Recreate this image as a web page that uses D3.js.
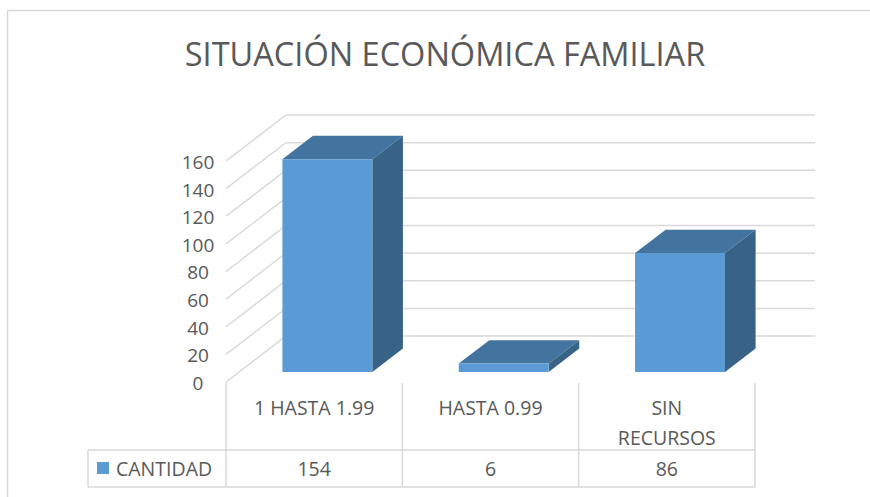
<!DOCTYPE html>
<html>
<head>
<meta charset="utf-8">
<script src="https://cdn.jsdelivr.net/npm/d3@7"></script>
<style>
  body { margin: 0; background: #fff; }
  text { font-family: "Open Sans", sans-serif; fill: #595959; }
</style>
</head>
<body>
<svg id="svg-main" width="870" height="497"></svg>
<script>
// data
var categories = ["1 HASTA 1.99", "HASTA 0.99", "SIN RECURSOS"];
var categoryLines = [["1 HASTA 1.99"], ["HASTA 0.99"], ["SIN", "RECURSOS"]];
var values = [154, 6, 86];
var seriesName = "CANTIDAD";
var yTicks = [0, 20, 40, 60, 80, 100, 120, 140, 160];
var title = "SITUACIÓN ECONÓMICA FAMILIAR";

var svg = d3.select("#svg-main");

// depth of the 3d box
var depthX = 60, depthY = -46;
var barFront = 0.22, barBack = 0.73;

var x = d3.scaleBand().domain(categories).range([226, 755]).padding(0);
var xBar = d3.scaleBand().domain(categories).range([226, 755])
    .paddingInner(0.49).paddingOuter(0.245);
var y = d3.scaleLinear().domain([0, 160]).range([382, 161]);

// chart border
svg.append("rect")
  .attr("x", 7.5).attr("y", 10.5)
  .attr("width", 880).attr("height", 500)
  .attr("fill", "none")
  .attr("stroke", "#d9d9d9")
  .attr("stroke-width", 1.5);

// title
svg.append("text")
  .attr("x", 445)
  .attr("y", 66)
  .attr("text-anchor", "middle")
  .style("font-size", "32.5px")
  .text(title);

// gridlines: diagonal on the left wall, then along the back wall
svg.append("g")
  .selectAll("path")
  .data(yTicks)
  .enter()
  .append("path")
  .attr("fill", "none")
  .attr("stroke", "#d9d9d9")
  .attr("stroke-width", 1.5)
  .attr("d", function(d) {
      return "M 226 " + y(d) + " l " + depthX + " " + depthY +
             " L " + (755 + depthX) + " " + (y(d) + depthY);
  });

// tick labels
svg.append("g")
  .selectAll("text")
  .data(yTicks)
  .enter()
  .append("text")
  .attr("x", 198)
  .attr("y", function(d) { return y(d); })
  .attr("dy", "0.42em")
  .attr("text-anchor", "middle")
  .style("font-size", "19px")
  .text(function(d) { return d; });

// bars
var bars = svg.append("g")
  .selectAll("g")
  .data(values)
  .enter()
  .append("g");

function corner(i, v, side, depth) {
    var px = xBar(categories[i]) + (side ? xBar.bandwidth() : 0) + depth * depthX;
    var py = y(v) + depth * depthY;
    return px + "," + py;
}

// top face
bars.append("polygon")
  .attr("fill", "#43739f")
  .attr("points", function(d, i) {
      return [corner(i, d, 0, barFront), corner(i, d, 1, barFront),
              corner(i, d, 1, barBack), corner(i, d, 0, barBack)].join(" ");
  });

// side face
bars.append("polygon")
  .attr("fill", "#386387")
  .attr("points", function(d, i) {
      return [corner(i, d, 1, barFront), corner(i, 0, 1, barFront),
              corner(i, 0, 1, barBack), corner(i, d, 1, barBack)].join(" ");
  });

// front face
bars.append("polygon")
  .attr("fill", "#5b9bd5")
  .attr("points", function(d, i) {
      return [corner(i, d, 0, barFront), corner(i, d, 1, barFront),
              corner(i, 0, 1, barFront), corner(i, 0, 0, barFront)].join(" ");
  });

// data table
var rowTop = 450, rowBottom = 487, headTop = 383;
var table = svg.append("g")
  .attr("stroke", "#d9d9d9")
  .attr("stroke-width", 1.5)
  .attr("fill", "none");

var colEdges = categories.map(function(c) { return x(c); }).concat([755]);
table.selectAll("line.col")
  .data(colEdges)
  .enter()
  .append("line")
  .attr("x1", function(d) { return d; })
  .attr("x2", function(d) { return d; })
  .attr("y1", function(d, i) { return i == 0 ? y(0) : headTop; })
  .attr("y2", rowBottom);

table.append("line")
  .attr("x1", 88).attr("x2", 755)
  .attr("y1", rowTop).attr("y2", rowTop);
table.append("line")
  .attr("x1", 88).attr("x2", 755)
  .attr("y1", rowBottom).attr("y2", rowBottom);
table.append("line")
  .attr("x1", 88).attr("x2", 88)
  .attr("y1", rowTop).attr("y2", rowBottom);

// category labels
svg.append("g")
  .selectAll("text")
  .data(categoryLines)
  .enter()
  .append("text")
  .attr("text-anchor", "middle")
  .style("font-size", "19.5px")
  .each(function(lines, i) {
      d3.select(this).selectAll("tspan")
        .data(lines)
        .enter()
        .append("tspan")
        .attr("x", x(categories[i]) + x.bandwidth() / 2)
        .attr("y", function(l, j) { return 415 + j * 30; })
        .text(function(l) { return l; });
  });

// values row
svg.append("g")
  .selectAll("text")
  .data(values)
  .enter()
  .append("text")
  .attr("x", function(d, i) { return x(categories[i]) + x.bandwidth() / 2; })
  .attr("y", 476)
  .attr("text-anchor", "middle")
  .style("font-size", "19.5px")
  .text(function(d) { return d; });

// legend key
svg.append("rect")
  .attr("x", 97).attr("y", 462)
  .attr("width", 12).attr("height", 12)
  .attr("fill", "#5b9bd5");
svg.append("text")
  .attr("x", 116)
  .attr("y", 476)
  .style("font-size", "19.5px")
  .text(seriesName);
</script>
</body>
</html>
